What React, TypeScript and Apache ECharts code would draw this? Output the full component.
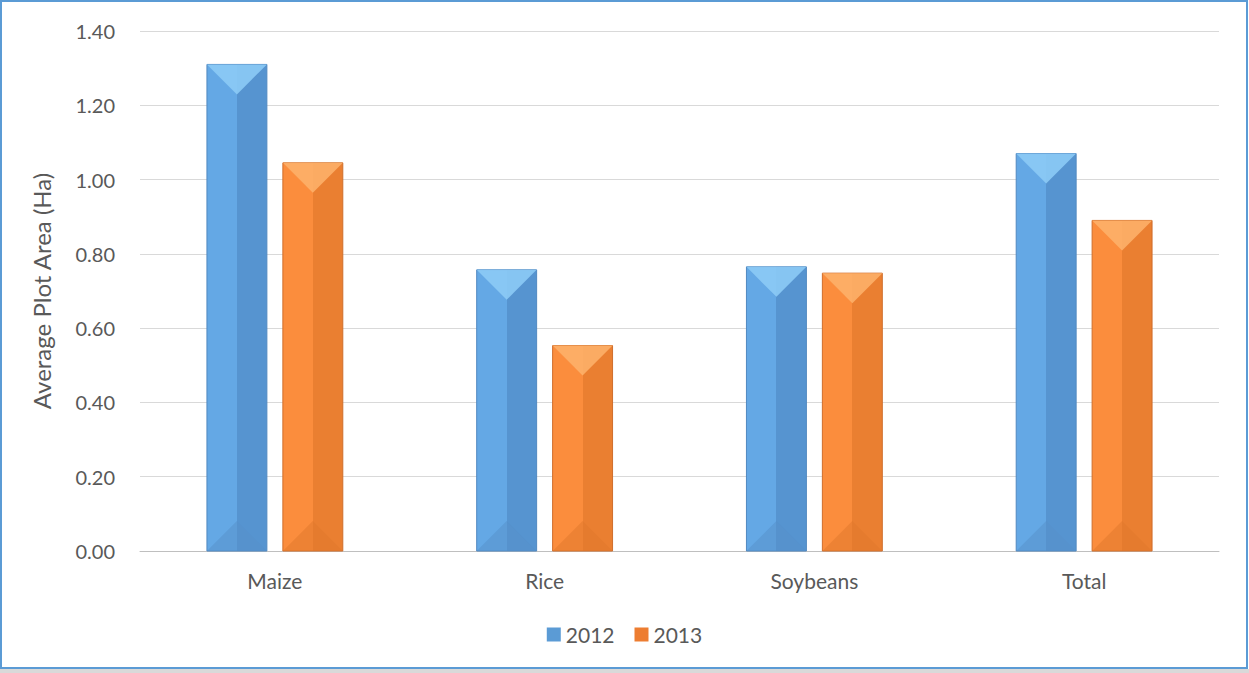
import React, { useEffect, useRef } from "react";
import * as echarts from "echarts";

const categories = ["Maize", "Rice", "Soybeans", "Total"];
const series2012 = [1.31, 0.757, 0.765, 1.07];
const series2013 = [1.045, 0.553, 0.748, 0.89];
const seriesNames = ["2012", "2013"];
const yTicks = { min: 0, max: 1.4, interval: 0.2 };

const palettes = [
  { light: "#64a8e5", dark: "#5694d0", top: "#8ccaf5", bottom: "#5590ca", edge: "#5088c0", legend: "#5b9bd5" },
  { light: "#fb8d3d", dark: "#ea7f31", top: "#fdb069", bottom: "#e0782c", edge: "#cf6e2c", legend: "#ed7d31" },
];

export default function App() {
  const ref = useRef<HTMLDivElement>(null);
  useEffect(() => {
    if (!ref.current) return;
    const chart = echarts.init(ref.current, null, { renderer: "svg" });
    const makeRender = (si: number) => (params: any, api: any) => {
      const cat = api.value(0);
      const val = api.value(1);
      const base = api.coord([cat, 0]);
      const topP = api.coord([cat, val]);
      const band = api.size([1, 0])[0];
      const w = (band * 60) / 270;
      const off = (band * 38) / 270;
      const cx = si === 0 ? base[0] - off : base[0] + off;
      const x = cx - w / 2;
      const y = topP[1];
      const h = base[1] - topP[1];
      const d = Math.min(w / 2, h / 2);
      const p = palettes[si];
      return {
        type: "group",
        children: [
          {
            type: "rect",
            shape: { x, y, width: w, height: h },
            style: {
              fill: new echarts.graphic.LinearGradient(0, 0, 1, 0, [
                { offset: 0, color: p.light },
                { offset: 0.5, color: p.light },
                { offset: 0.5, color: p.dark },
                { offset: 1, color: p.dark },
              ]),
              stroke: p.edge,
              lineWidth: 1,
            },
          },
          {
            type: "polygon",
            shape: { points: [[x, y], [x + w, y], [cx, y + d]] },
            style: { fill: p.top, opacity: 0.9, stroke: null },
          },
          {
            type: "polygon",
            shape: { points: [[x, y + h], [x + w, y + h], [cx, y + h - d]] },
            style: { fill: p.bottom, opacity: 0.5, stroke: null },
          },
        ],
      };
    };
    const font = "Lato, 'Open Sans', sans-serif";
    chart.setOption({
      animation: false,
      backgroundColor: "#ffffff",
      textStyle: { fontFamily: font },
      graphic: [
        {
          type: "rect",
          shape: { x: 1, y: 1, width: 1246, height: 667 },
          style: { fill: "none", stroke: "#5b9bd5", lineWidth: 2 },
          silent: true,
        },
        {
          type: "rect",
          shape: { x: 0, y: 669, width: 1249, height: 4 },
          style: { fill: "#d9d9d9" },
          silent: true,
        },
      ],
      grid: { left: 140, right: 30, top: 31, bottom: 122 },
      legend: {
        data: seriesNames,
        bottom: 23,
        left: "center",
        icon: "rect",
        itemWidth: 14,
        itemHeight: 14,
        itemGap: 20,
        textStyle: { fontSize: 21, color: "#595959", fontFamily: font },
      },
      xAxis: {
        type: "category",
        data: categories,
        axisLine: { lineStyle: { color: "#bfbfbf", width: 1 } },
        axisTick: { show: false },
        axisLabel: { fontSize: 21, color: "#595959", margin: 19, fontFamily: font },
      },
      yAxis: {
        type: "value",
        min: yTicks.min,
        max: yTicks.max,
        interval: yTicks.interval,
        name: "Average Plot Area (Ha)",
        nameLocation: "middle",
        nameGap: 87,
        nameRotate: 90,
        nameTextStyle: { fontSize: 24, color: "#595959", fontFamily: font },
        axisLine: { show: false },
        axisTick: { show: false },
        axisLabel: {
          fontSize: 20,
          color: "#595959",
          margin: 25,
          fontFamily: font,
          formatter: (v: number) => v.toFixed(2),
        },
        splitLine: { lineStyle: { color: "#d9d9d9", width: 1 } },
      },
      series: [series2012, series2013].map((vals, si) => ({
        type: "custom",
        name: seriesNames[si],
        itemStyle: { color: palettes[si].legend },
        data: vals.map((v, i) => [i, v]),
        encode: { x: 0, y: 1 },
        renderItem: makeRender(si),
      })),
    });
    return () => chart.dispose();
  }, []);
  return (
    <div
      ref={ref}
      style={{ position: "absolute", left: 0, top: 0, width: 1249, height: 673 }}
    />
  );
}
